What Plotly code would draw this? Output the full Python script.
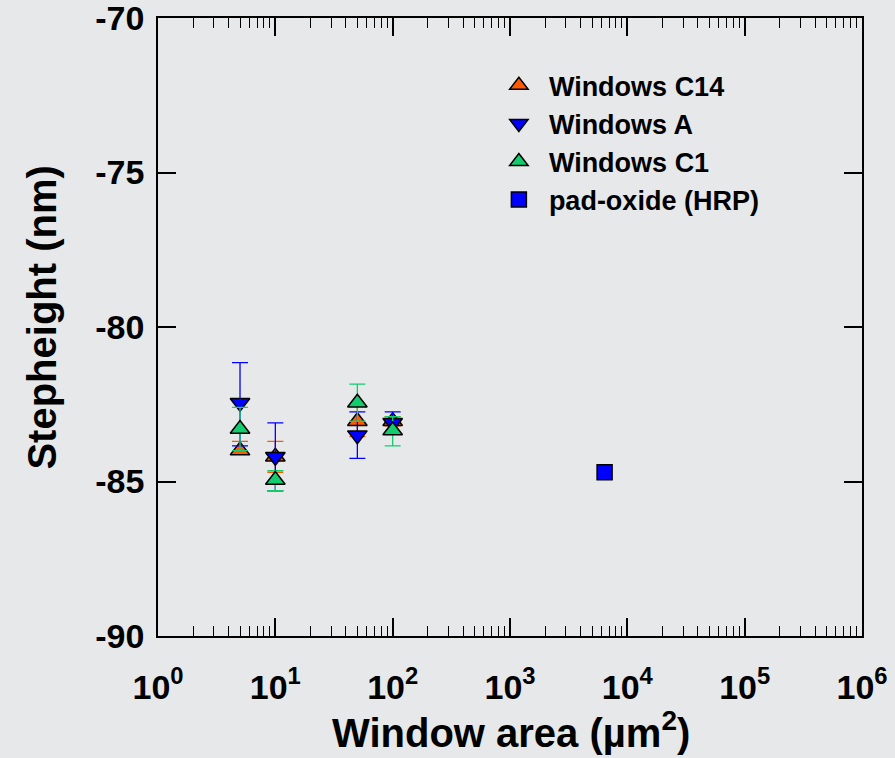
import plotly.graph_objects as go

# Data
x_c14 = [5, 10, 50, 100]
y_c14 = [-84.0, -84.2, -83.05, -83.05]
e_c14_plus = [0.3, 0.5, 0.5, 0.15]
e_c14_minus = [0.1, 0.5, 0.5, 0.15]

x_a = [5, 10, 50, 100]
y_a = [-82.45, -84.2, -83.5, -83.1]
e_a_plus = [1.3, 1.1, 0.75, 0.35]
e_a_minus = [1.4, 1.1, 0.75, 0.35]

x_c1 = [5, 10, 50, 100]
y_c1 = [-83.3, -84.95, -82.45, -83.35]
e_c1_plus = [0.7, 0.3, 0.6, 0.45]
e_c1_minus = [0.7, 0.35, 0.6, 0.5]

x_pad = [6400]
y_pad = [-84.7]

names = ["Windows C14", "Windows A", "Windows C1", "pad-oxide (HRP)"]
colors = ["#ff5a00", "#0000ff", "#12cc6e", "#0000ff"]

x_tickvals = [1, 10, 100, 1000, 10000, 100000, 1000000]
x_ticktext = ["10<sup>%d</sup>" % i for i in range(7)]
x_minorvals = [m * d for d in [1, 10, 100, 1000, 10000, 100000] for m in range(2, 10)]
y_tickvals = [-90, -85, -80, -75, -70]

x_title = "Window area (µm<sup>2</sup>)"
y_title = "Stepheight (nm)"

fig = go.Figure()

def add_series(x, y, ep, em, name, color, symbol):
    fig.add_trace(go.Scatter(
        x=x, y=y, mode="markers", name=name,
        marker=dict(symbol=symbol, size=17, color=color,
                    line=dict(color="black", width=1.5)),
        error_y=dict(type="data", symmetric=False, array=ep, arrayminus=em,
                     color=color, thickness=1.3, width=8),
    ))

add_series(x_c14, y_c14, e_c14_plus, e_c14_minus, names[0], colors[0], "triangle-up")
add_series(x_a, y_a, e_a_plus, e_a_minus, names[1], colors[1], "triangle-down")
add_series(x_c1, y_c1, e_c1_plus, e_c1_minus, names[2], colors[2], "triangle-up")
fig.add_trace(go.Scatter(
    x=x_pad, y=y_pad, mode="markers", name=names[3],
    marker=dict(symbol="square", size=15, color=colors[3],
                line=dict(color="black", width=1.5)),
))

bg = "#e7e8ea"
font_family = "Liberation Sans, Arial, sans-serif"

fig.update_layout(
    width=895, height=758,
    margin=dict(l=158, r=33, t=18, b=122, autoexpand=False),
    paper_bgcolor=bg, plot_bgcolor=bg,
    font=dict(family=font_family, color="black"),
    showlegend=True,
    legend=dict(x=0.47, y=0.93, xanchor="left", yanchor="top",
                bgcolor="rgba(0,0,0,0)",
                font=dict(size=27, weight="bold", family=font_family),
                itemwidth=50, tracegroupgap=0),
    xaxis=dict(
        type="log", range=[0, 6], automargin=False,
        tickvals=x_tickvals, ticktext=x_ticktext,
        tickfont=dict(size=34, weight="bold"),
        ticklabeloverflow="allow", ticklabelstandoff=20,
        ticks="inside", ticklen=18, tickwidth=1.5, tickcolor="black",
        minor=dict(tickmode="array", tickvals=x_minorvals, ticks="inside",
                   ticklen=10, tickwidth=1.2, tickcolor="black", showgrid=False),
        showline=True, linecolor="black", linewidth=1.8, mirror="ticks",
        showgrid=False, zeroline=False,
    ),
    yaxis=dict(
        range=[-90, -70], automargin=False,
        tickvals=y_tickvals, ticktext=[str(v) for v in y_tickvals],
        tickfont=dict(size=34, weight="bold"),
        ticklabeloverflow="allow", ticklabelstandoff=5,
        ticks="inside", ticklen=18, tickwidth=1.5, tickcolor="black",
        showline=True, linecolor="black", linewidth=1.8, mirror="ticks",
        showgrid=False, zeroline=False,
    ),
    annotations=[
        dict(text=x_title, xref="paper", yref="paper", x=0.501, y=-0.152,
             xanchor="center", yanchor="middle", showarrow=False,
             font=dict(size=40, weight="bold")),
        dict(text=y_title, xref="paper", yref="paper", x=-0.165, y=0.515,
             xanchor="center", yanchor="middle", showarrow=False, textangle=-90,
             font=dict(size=40, weight="bold")),
    ],
)

fig.write_html("out.html")
